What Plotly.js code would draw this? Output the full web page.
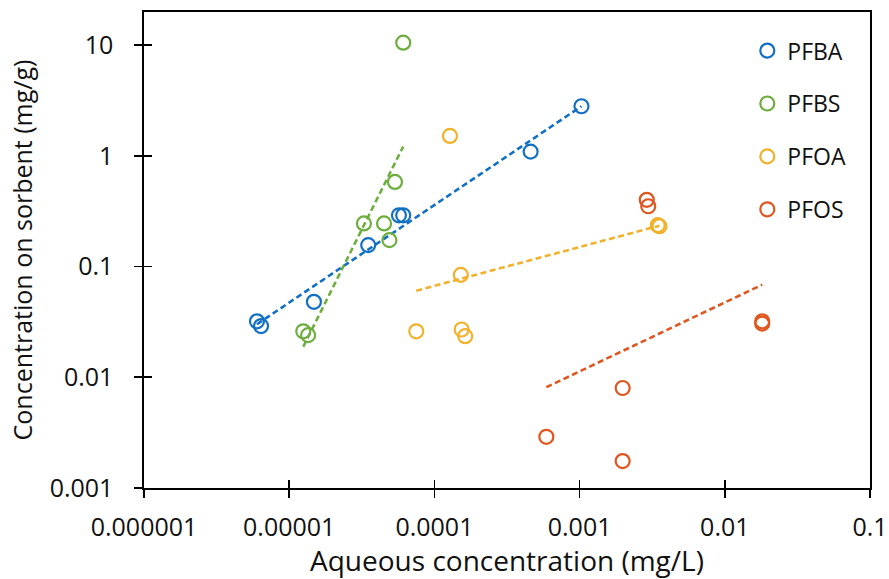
<!DOCTYPE html>
<html>
<head>
<meta charset="utf-8">
<script src="https://cdn.plot.ly/plotly-3.0.1.min.js"></script>
<style>html,body{margin:0;padding:0;background:#fff}#chart{width:889px;height:579px}</style>
</head>
<body>
<div id="chart"></div>
<script>
// ---- data ----
const seriesNames = ['PFBA', 'PFBS', 'PFOA', 'PFOS'];

const pfbaX = [6.0e-6, 6.4e-6, 1.48e-5, 3.5e-5, 5.7e-5, 6.1e-5, 4.6e-4, 1.03e-3];
const pfbaY = [0.032, 0.029, 0.048, 0.156, 0.29, 0.29, 1.09, 2.8];

const pfbsX = [1.25e-5, 1.35e-5, 3.27e-5, 4.5e-5, 4.9e-5, 5.35e-5, 6.1e-5];
const pfbsY = [0.026, 0.024, 0.245, 0.245, 0.173, 0.58, 10.5];

const pfoaX = [7.5e-5, 1.28e-4, 1.52e-4, 1.54e-4, 1.63e-4, 3.45e-3, 3.55e-3];
const pfoaY = [0.026, 1.51, 0.084, 0.027, 0.0235, 0.236, 0.231];

const pfosX = [5.9e-4, 1.98e-3, 1.98e-3, 2.9e-3, 2.97e-3, 0.0181, 0.0181];
const pfosY = [0.0029, 0.0080, 0.00175, 0.40, 0.35, 0.032, 0.0305];

const xTickVals = [1e-6, 1e-5, 1e-4, 1e-3, 1e-2, 1e-1];
const xTickText = ['0.000001', '0.00001', '0.0001', '0.001', '0.01', '0.1'];
const yTickVals = [0.001, 0.01, 0.1, 1, 10];
const yTickText = ['0.001', '0.01', '0.1', '1', '10'];

const xTitle = 'Aqueous concentration (mg/L)';
const yTitle = 'Concentration on sorbent (mg/g)';

// ---- styling ----
const colors = ['#1170C4', '#6DAE3E', '#F2B12A', '#E0561F'];
const FONT = '"Open Sans", "DejaVu Sans", sans-serif';

// power-law (log-log least squares) trendline, like Excel's power trendline
function powerFit(xs, ys) {
  const lx = xs.map(Math.log10), ly = ys.map(Math.log10);
  const n = lx.length;
  const mx = lx.reduce((a, b) => a + b, 0) / n;
  const my = ly.reduce((a, b) => a + b, 0) / n;
  let sxy = 0, sxx = 0;
  for (let i = 0; i < n; i++) { sxy += (lx[i] - mx) * (ly[i] - my); sxx += (lx[i] - mx) ** 2; }
  const b = sxy / sxx, a = my - b * mx;
  const x0 = Math.min(...xs), x1 = Math.max(...xs);
  return { x: [x0, x1], y: [Math.pow(10, a + b * Math.log10(x0)), Math.pow(10, a + b * Math.log10(x1))] };
}

const allX = [pfbaX, pfbsX, pfoaX, pfosX];
const allY = [pfbaY, pfbsY, pfoaY, pfosY];

const traces = [];
allX.forEach((xs, i) => {
  const f = powerFit(xs, allY[i]);
  traces.push({
    x: f.x, y: f.y, type: 'scatter', mode: 'lines',
    line: { color: colors[i], width: 2.6, dash: '6px,3.5px' },
    showlegend: false, hoverinfo: 'skip', legendgroup: 'g' + i
  });
});
allX.forEach((xs, i) => {
  traces.push({
    x: xs, y: allY[i], type: 'scatter', mode: 'markers', name: seriesNames[i],
    legendgroup: 'g' + i,
    marker: { symbol: 'circle-open', size: 14, color: colors[i], line: { width: 2.2, color: colors[i] } }
  });
});
// empty trace so the overlay (inner tick) axes get drawn
traces.push({ x: [], y: [], xaxis: 'x2', yaxis: 'y2', showlegend: false, type: 'scatter', mode: 'markers' });

const baseX = {
  type: 'log', range: [-6, -1], tickvals: xTickVals, ticktext: xTickText, automargin: false,
  showgrid: false, zeroline: false, showline: true, linecolor: '#000', linewidth: 1.6,
  ticks: 'outside', ticklen: 8, tickwidth: 1.6, tickcolor: '#000'
};
const baseY = {
  type: 'log', range: [-3, 1.298], tickvals: yTickVals, ticktext: yTickText, automargin: false,
  showgrid: false, zeroline: false, showline: true, linecolor: '#000', linewidth: 1.6,
  ticks: 'outside', ticklen: 8, tickwidth: 1.6, tickcolor: '#000'
};

const layout = {
  width: 889, height: 579,
  margin: { l: 144, r: 19, t: 12, b: 91 },
  paper_bgcolor: '#fff', plot_bgcolor: '#fff',
  font: { family: FONT, color: '#111', size: 24 },
  showlegend: true,
  legend: {
    x: 0.831, y: 0.964, xanchor: 'left', yanchor: 'top',
    font: { family: FONT, size: 23, color: '#111' },
    traceorder: 'grouped', tracegroupgap: 20, bgcolor: 'rgba(0,0,0,0)'
  },
  xaxis: Object.assign({}, baseX, {
    mirror: true, ticklabelstandoff: 8,
    tickfont: { family: FONT, size: 25, color: '#111' },
    title: { text: xTitle, font: { family: FONT, size: 28, color: '#111' }, standoff: 14 }
  }),
  yaxis: Object.assign({}, baseY, {
    mirror: true, ticklabelstandoff: 16,
    tickfont: { family: FONT, size: 25, color: '#111' },
    title: { text: yTitle, font: { family: FONT, size: 25, color: '#111' }, standoff: 10 }
  }),
  xaxis2: Object.assign({}, baseX, { overlaying: 'x', anchor: 'y2', side: 'bottom', ticks: 'inside', showticklabels: false }),
  yaxis2: Object.assign({}, baseY, { overlaying: 'y', anchor: 'x2', side: 'left', ticks: 'inside', showticklabels: false })
};

Plotly.newPlot('chart', traces, layout, { staticPlot: true, displayModeBar: false });
</script>
</body>
</html>
